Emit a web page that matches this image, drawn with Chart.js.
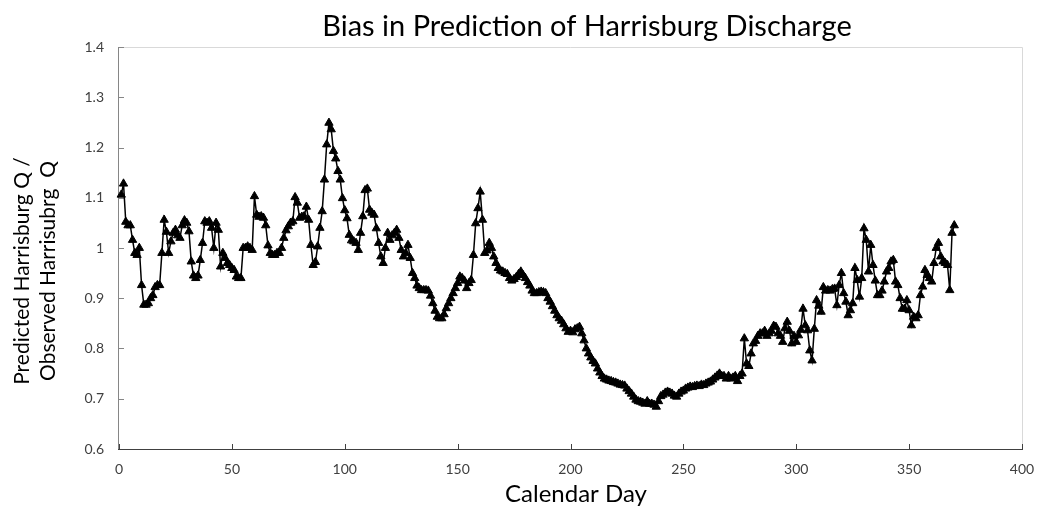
<!DOCTYPE html>
<html>
<head>
<meta charset="utf-8">
<script src="https://cdn.jsdelivr.net/npm/chart.js@4.4.0/dist/chart.umd.min.js"></script>
<style>
  html, body { margin: 0; padding: 0; background: #ffffff; }
  #wrap { width: 1052px; height: 515px; }
</style>
</head>
<body>
<div id="wrap"><canvas id="chart" width="1052" height="515"></canvas></div>
<script>
// Text
const chartTitle = 'Bias in Prediction of Harrisburg Discharge';
const xAxisTitle = 'Calendar Day';
const yAxisTitle = ['Predicted Harrisburg Q /', 'Observed Harrisubrg  Q'];

// Ratio of predicted to observed discharge, one value per calendar day
const firstDay = 1;
const ratioDays001to092 = [
  1.106, 1.128, 1.052, 1.045, 1.045, 1.016, 0.990, 0.986, 1.000, 0.926,
  0.887, 0.887, 0.890, 0.900, 0.906, 0.922, 0.926, 0.926, 0.990, 1.056,
  1.032, 0.990, 1.013, 1.030, 1.036, 1.025, 1.020, 1.045, 1.055, 1.050,
  1.033, 0.973, 0.945, 0.940, 0.945, 0.976, 1.010, 1.053, 1.050, 1.053,
  1.040, 1.000, 1.050, 1.036, 0.963, 0.990, 0.980, 0.970, 0.966, 0.960,
  0.956, 0.943, 0.940, 0.940, 1.000, 1.000, 1.003, 1.000, 0.996, 1.103,
  1.066, 1.062, 1.063, 1.060, 1.045, 1.005, 0.990, 0.986, 0.986, 0.990,
  0.990, 1.000, 1.020, 1.035, 1.043, 1.050, 1.053, 1.101, 1.090, 1.060,
  1.062, 1.063, 1.082, 1.056, 1.006, 0.966, 0.972, 1.003, 1.040, 1.073,
  1.136, 1.206
];
const ratioDays093to184 = [
  1.249, 1.236, 1.193, 1.178, 1.153, 1.136, 1.099, 1.075, 1.059, 1.026,
  1.015, 1.013, 1.010, 0.996, 1.030, 1.063, 1.115, 1.118, 1.076, 1.070,
  1.066, 1.039, 1.010, 0.983, 0.970, 1.000, 1.030, 1.016, 1.025, 1.030,
  1.036, 1.020, 0.996, 0.983, 0.990, 1.006, 0.980, 0.950, 0.940, 0.925,
  0.920, 0.916, 0.916, 0.916, 0.915, 0.905, 0.890, 0.875, 0.863, 0.860,
  0.860, 0.868, 0.880, 0.890, 0.900, 0.910, 0.920, 0.930, 0.943, 0.940,
  0.935, 0.920, 0.930, 0.936, 0.986, 1.049, 1.079, 1.112, 1.056, 0.990,
  0.995, 1.010, 1.000, 0.983, 0.970, 0.960, 0.955, 0.953, 0.950, 0.948,
  0.940, 0.935, 0.938, 0.942, 0.948, 0.953, 0.946, 0.940, 0.932, 0.925,
  0.915, 0.910
];
const ratioDays185to276 = [
  0.910, 0.912, 0.913, 0.912, 0.910, 0.900, 0.893, 0.884, 0.875, 0.866,
  0.860, 0.855, 0.848, 0.840, 0.833, 0.835, 0.832, 0.838, 0.840, 0.843,
  0.830, 0.816, 0.800, 0.790, 0.782, 0.775, 0.770, 0.760, 0.752, 0.745,
  0.740, 0.738, 0.736, 0.735, 0.733, 0.732, 0.730, 0.728, 0.727, 0.726,
  0.720, 0.715, 0.710, 0.704, 0.698, 0.695, 0.694, 0.692, 0.690, 0.695,
  0.690, 0.690, 0.688, 0.684, 0.695, 0.705, 0.708, 0.712, 0.714, 0.712,
  0.710, 0.706, 0.704, 0.710, 0.714, 0.716, 0.720, 0.722, 0.724, 0.723,
  0.725, 0.726, 0.725, 0.728, 0.727, 0.730, 0.732, 0.734, 0.738, 0.742,
  0.746, 0.750, 0.745, 0.745, 0.740, 0.745, 0.740, 0.742, 0.745, 0.735,
  0.745, 0.750
];
const ratioDays277to370 = [
  0.820, 0.770, 0.765, 0.790, 0.810, 0.815, 0.825, 0.830, 0.830, 0.835,
  0.825, 0.830, 0.835, 0.845, 0.843, 0.830, 0.825, 0.813, 0.840, 0.853,
  0.835, 0.810, 0.825, 0.813, 0.826, 0.837, 0.879, 0.846, 0.836, 0.796,
  0.776, 0.839, 0.896, 0.885, 0.873, 0.922, 0.915, 0.916, 0.915, 0.918,
  0.919, 0.886, 0.926, 0.950, 0.910, 0.893, 0.866, 0.876, 0.890, 0.960,
  0.936, 0.903, 0.940, 1.039, 1.016, 0.953, 1.006, 0.966, 0.935, 0.906,
  0.906, 0.915, 0.933, 0.953, 0.960, 0.973, 0.976, 0.933, 0.926, 0.900,
  0.879, 0.879, 0.896, 0.876, 0.846, 0.863, 0.860, 0.866, 0.906, 0.923,
  0.956, 0.946, 0.940, 0.933, 0.970, 1.000, 1.010, 0.983, 0.973, 0.970,
  0.966, 0.916, 1.030, 1.045
];

// Axis ticks
const xTicks = [0, 50, 100, 150, 200, 250, 300, 350, 400];
const yTicks = [0.6, 0.7, 0.8, 0.9, 1.0, 1.1, 1.2, 1.3, 1.4];

const ratioSeries = [].concat(ratioDays001to092, ratioDays093to184, ratioDays185to276, ratioDays277to370);
const points = ratioSeries.map((v, i) => ({ x: firstDay + i, y: v }));

const FONT = 'Lato, "Open Sans", "Liberation Sans", sans-serif';
const PLOT = { left: 119, right: 1022, top: 47, bottom: 449 };

// Plot frame, inside tick marks, and the chart/axis titles
const frameAndTitles = {
  id: 'frameAndTitles',
  beforeDatasetsDraw(chart) {
    const { ctx, chartArea: a, scales } = chart;
    ctx.save();
    ctx.lineWidth = 1;
    // top and right frame
    ctx.strokeStyle = '#d9d9d9';
    ctx.beginPath();
    ctx.moveTo(a.left, a.top + 0.5);
    ctx.lineTo(a.right + 0.5, a.top + 0.5);
    ctx.lineTo(a.right + 0.5, a.bottom);
    ctx.stroke();
    // value axis
    ctx.strokeStyle = '#868686';
    ctx.beginPath();
    ctx.moveTo(a.left - 0.5, a.top);
    ctx.lineTo(a.left - 0.5, a.bottom);
    yTicks.forEach(t => {
      const y = Math.round(scales.y.getPixelForValue(t)) + 0.5;
      ctx.moveTo(a.left, y);
      ctx.lineTo(a.left + 5, y);
    });
    ctx.stroke();
    // category axis
    ctx.strokeStyle = '#404040';
    ctx.beginPath();
    ctx.moveTo(a.left - 1, a.bottom + 0.5);
    ctx.lineTo(a.right + 1, a.bottom + 0.5);
    xTicks.forEach(t => {
      const x = Math.round(scales.x.getPixelForValue(t)) + 0.5;
      ctx.moveTo(x, a.bottom);
      ctx.lineTo(x, a.bottom - 5);
    });
    ctx.stroke();
    ctx.restore();
  },
  afterDraw(chart) {
    const { ctx } = chart;
    ctx.save();
    ctx.fillStyle = '#000000';
    ctx.textAlign = 'center';
    ctx.textBaseline = 'middle';
    ctx.font = '29px ' + FONT;
    ctx.fillText(chartTitle, 587, 27);
    ctx.font = '24px ' + FONT;
    ctx.fillText(xAxisTitle, 576, 494);
    ctx.font = '21px ' + FONT;
    ctx.translate(0, 271);
    ctx.rotate(-Math.PI / 2);
    ctx.fillText(yAxisTitle[0], 0, 22);
    ctx.fillText(yAxisTitle[1], 0, 48);
    ctx.restore();
  }
};

new Chart(document.getElementById('chart'), {
  type: 'line',
  data: {
    datasets: [{
      data: points,
      borderColor: '#000000',
      borderWidth: 1.5,
      backgroundColor: '#000000',
      pointStyle: 'triangle',
      pointRadius: 4.8,
      pointBorderWidth: 1,
      pointBorderColor: '#000000',
      pointBackgroundColor: '#000000',
      tension: 0,
      clip: false
    }]
  },
  options: {
    responsive: false,
    animation: false,
    events: [],
    layout: { padding: { top: PLOT.top, right: 1052 - PLOT.right, bottom: 0, left: 0 } },
    plugins: { legend: { display: false }, title: { display: false }, tooltip: { enabled: false } },
    scales: {
      x: {
        type: 'linear',
        min: 0,
        max: 400,
        afterFit(scale) { scale.height = 515 - PLOT.bottom; },
        afterBuildTicks(scale) { scale.ticks = xTicks.map(v => ({ value: v })); },
        grid: { display: false, drawTicks: false },
        border: { display: false },
        ticks: { color: '#404040', padding: 12, font: { family: FONT, size: 14 }, maxRotation: 0 }
      },
      y: {
        type: 'linear',
        min: 0.6,
        max: 1.4,
        afterFit(scale) { scale.width = PLOT.left; },
        afterBuildTicks(scale) { scale.ticks = yTicks.map(v => ({ value: v })); },
        grid: { display: false, drawTicks: false },
        border: { display: false },
        ticks: {
          color: '#404040', padding: 15, font: { family: FONT, size: 14 },
          callback: v => String(Math.round(v * 10) / 10)
        }
      }
    }
  },
  plugins: [frameAndTitles]
});
</script>
</body>
</html>
